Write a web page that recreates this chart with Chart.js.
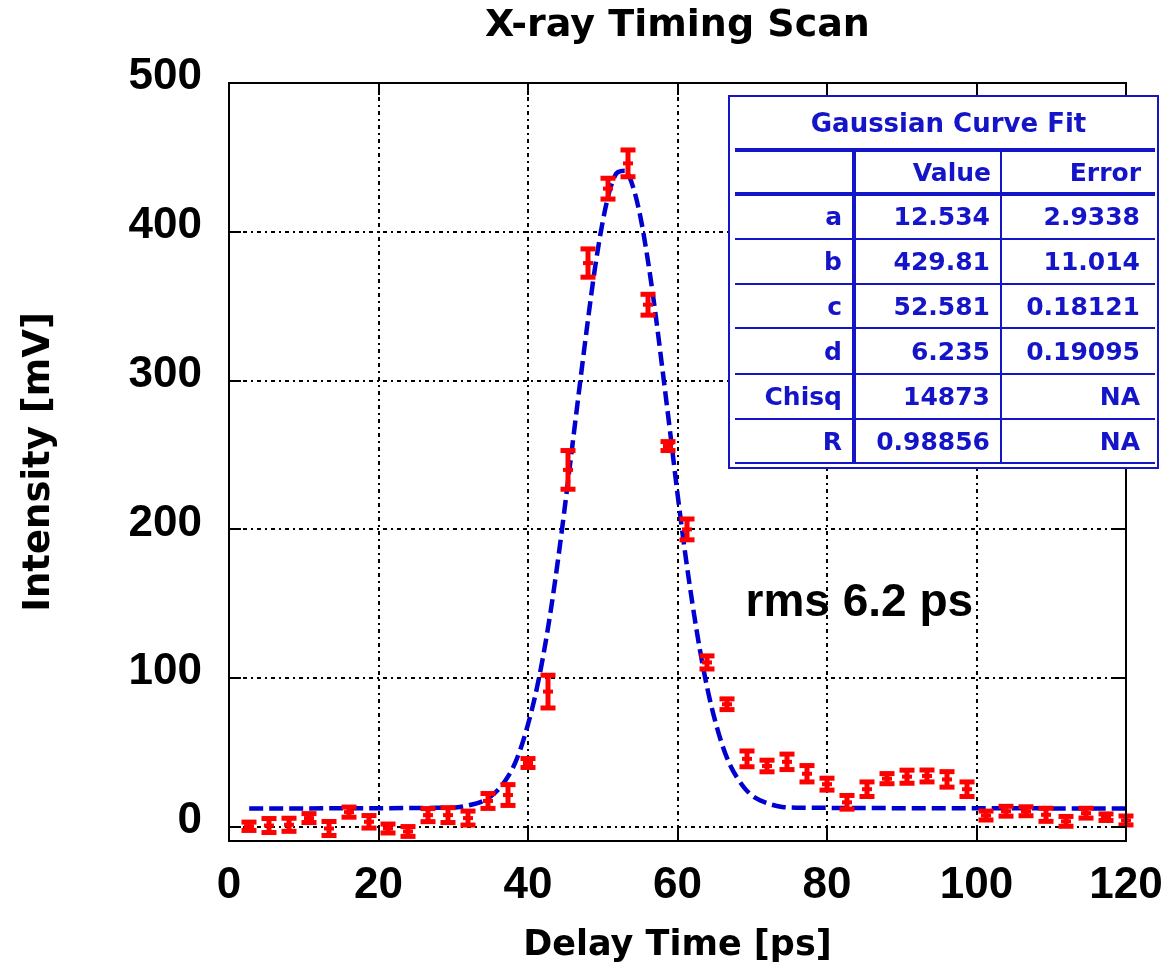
<!DOCTYPE html>
<html>
<head>
<meta charset="utf-8">
<title>X-ray Timing Scan</title>
<script src="https://cdn.jsdelivr.net/npm/chart.js@4.4.1/dist/chart.umd.min.js"></script>
<style>
  html, body { margin: 0; padding: 0; background: #fff; }
  #wrap { width: 1163px; height: 973px; }
</style>
</head>
<body>
<div id="wrap"><canvas id="myChart" width="1163" height="973"></canvas></div>
<script>
// measured points (delay in ps, intensity in mV, error bar half-height)
const delayTimes = [2.67, 5.33, 8.0, 10.67, 13.33, 16.0, 18.67, 21.33, 24.0, 26.67, 29.33, 32.0, 34.67, 37.33, 40.0,
  42.67, 45.33, 48.0, 50.67, 53.33, 56.0, 58.67, 61.33, 64.0, 66.67, 69.33, 72.0, 74.67, 77.33, 80.0,
  82.67, 85.33, 88.0, 90.67, 93.33, 96.0, 98.67, 101.33, 104.0, 106.67, 109.33, 112.0, 114.67, 117.33, 120.0];
const intensity = [0.5, 1, 1.5, 6, -1, 10, 3.5, -1, -3, 8, 8, 6, 17.5, 21.5, 43,
  91, 240, 379, 429, 446, 351, 256, 200, 110.6, 82.5, 45.8, 41, 43.8, 35.8, 28.8,
  16.6, 25.4, 32.5, 33.8, 34.3, 32, 25.4, 7.7, 10.6, 10.6, 8.2, 3.8, 9.3, 6.6, 4.4];
const errors = [2.8, 4.7, 4.4, 3, 4.7, 3.4, 4.2, 3, 3.3, 4.4, 5, 4.7, 5, 7, 3,
  11, 13, 9.5, 7, 9, 7, 3, 7, 4.4, 3.6, 5.3, 3.9, 5.2, 5.5, 4,
  4.6, 4.9, 3.4, 4.4, 4, 5.2, 4.9, 3, 3.3, 3, 4.4, 3.3, 3.3, 2.2, 3];

// gaussian fit curve
const curveX = [2.7, 30, 32, 34, 35, 36, 37, 38, 39, 40, 41, 42, 43, 44, 45, 46, 47, 48, 49, 50, 51, 52, 53,
  54, 55, 56, 57, 58, 59, 60, 61, 62, 63, 64, 65, 66, 67, 68, 69, 70, 72, 74, 76, 120];
const curveY = [12.5, 13, 14.5, 17.5, 20.5, 25, 31.5, 40, 52.5, 69, 89, 114, 144, 179, 218, 259, 300, 340, 377, 407, 429, 440, 441,
  431, 411, 382, 347, 307, 266, 224, 185, 150, 119, 93, 72, 55, 42, 33, 26, 21, 16, 13.5, 13, 12.5];

const xTicks = [0, 20, 40, 60, 80, 100, 120];
const yTicks = [0, 100, 200, 300, 400, 500];

// fit table
const fitHeader = ['', 'Value', 'Error'];
const fitParams = ['a', 'b', 'c', 'd', 'Chisq', 'R'];
const fitValues = ['12.534', '429.81', '52.581', '6.235', '14873', '0.98856'];
const fitErrors = ['2.9338', '11.014', '0.18121', '0.19095', 'NA', 'NA'];

const rmsText = 'rms 6.2 ps';
const rmsPos = { x: 69.1, y: 142 };

const tickFont = { family: "'Liberation Sans Narrow', 'Arial Narrow', 'Liberation Sans', sans-serif", size: 44, weight: 'bold' };
const labelFont = "'DejaVu Sans', sans-serif";
const tableBlue = '#1414c8';

// extra drawing: error bars, frame, inward ticks, table, rms label
const decorPlugin = {
  id: 'decor',
  afterDatasetsDraw(chart) {
    const ctx = chart.ctx;
    const xs = chart.scales.x, ys = chart.scales.y;
    ctx.save();
    ctx.fillStyle = '#ff0000';
    delayTimes.forEach((t, i) => {
      const px = Math.round(xs.getPixelForValue(t));
      const top = ys.getPixelForValue(intensity[i] + errors[i]);
      const bot = ys.getPixelForValue(intensity[i] - errors[i]);
      const mid = ys.getPixelForValue(intensity[i]);
      ctx.fillRect(px - 2.5, top, 5, bot - top);
      ctx.fillRect(px - 7.5, top - 2.5, 15, 5);
      ctx.fillRect(px - 7.5, bot - 2.5, 15, 5);
      ctx.fillRect(px - 5, mid - 2, 10, 4);
    });
    ctx.restore();
  },
  afterDraw(chart) {
    const ctx = chart.ctx;
    const a = chart.chartArea;
    const xs = chart.scales.x, ys = chart.scales.y;
    ctx.save();
    // frame
    ctx.strokeStyle = '#000';
    ctx.lineWidth = 2;
    ctx.strokeRect(a.left, a.top, a.right - a.left, a.bottom - a.top);
    // inward ticks
    const tl = 12;
    ctx.beginPath();
    xTicks.forEach(v => {
      const px = Math.round(xs.getPixelForValue(v));
      ctx.moveTo(px, a.bottom); ctx.lineTo(px, a.bottom - tl);
      ctx.moveTo(px, a.top); ctx.lineTo(px, a.top + tl);
    });
    yTicks.forEach(v => {
      const py = Math.round(ys.getPixelForValue(v));
      ctx.moveTo(a.left, py); ctx.lineTo(a.left + tl, py);
      ctx.moveTo(a.right, py); ctx.lineTo(a.right - tl, py);
    });
    ctx.stroke();

    // rms label
    ctx.fillStyle = '#000';
    ctx.font = "bold 46px 'Liberation Sans', Arial, sans-serif";
    ctx.textAlign = 'left';
    ctx.textBaseline = 'alphabetic';
    ctx.fillText(rmsText, xs.getPixelForValue(rmsPos.x), ys.getPixelForValue(rmsPos.y));

    // fit table, placed from the chart area corner
    const L = a.left + 500, T = a.top + 13, W = 429, H = 372;
    const colX = [L + 6, L + 125, L + 272, L + 426];
    const rowY = [T + 54, T + 98, T + 143, T + 188, T + 232, T + 278, T + 323, T + 367];
    ctx.fillStyle = '#fff';
    ctx.fillRect(L, T, W, H);
    ctx.strokeStyle = tableBlue;
    ctx.lineWidth = 2;
    ctx.strokeRect(L, T, W, H);
    rowY.forEach((y, i) => {
      ctx.lineWidth = i < 2 ? 4 : 2;
      ctx.beginPath(); ctx.moveTo(colX[0], y); ctx.lineTo(colX[3], y); ctx.stroke();
    });
    ctx.lineWidth = 4;
    ctx.beginPath(); ctx.moveTo(colX[1], rowY[0]); ctx.lineTo(colX[1], rowY[7]); ctx.stroke();
    ctx.lineWidth = 2;
    ctx.beginPath(); ctx.moveTo(colX[2], rowY[0]); ctx.lineTo(colX[2], rowY[7]); ctx.stroke();

    ctx.fillStyle = tableBlue;
    ctx.textBaseline = 'middle';
    ctx.textAlign = 'center';
    ctx.font = 'bold 26px ' + labelFont;
    ctx.fillText('Gaussian Curve Fit', L + W / 2 + 5, (T + rowY[0]) / 2 + 2);
    ctx.font = 'bold 25px ' + labelFont;
    ctx.textAlign = 'right';
    const hy = (rowY[0] + rowY[1]) / 2 + 2;
    ctx.fillText(fitHeader[1], colX[2] - 10, hy);
    ctx.fillText(fitHeader[2], colX[3] - 14, hy);
    fitParams.forEach((p, i) => {
      const cy = (rowY[i + 1] + rowY[i + 2]) / 2 + 2;
      ctx.fillText(p, colX[1] - 12, cy);
      ctx.fillText(fitValues[i], colX[2] - 11, cy);
      ctx.fillText(fitErrors[i], colX[3] - 15, cy);
    });
    ctx.restore();
  }
};

const ctx = document.getElementById('myChart').getContext('2d');
new Chart(ctx, {
  type: 'scatter',
  data: {
    datasets: [
      {
        label: 'Gaussian fit',
        data: curveX.map((x, i) => ({ x: x, y: curveY[i] })),
        showLine: true,
        borderColor: '#0000d0',
        borderWidth: 4.5,
        borderDash: [14, 6],
        cubicInterpolationMode: 'monotone',
        pointRadius: 0,
        fill: false
      },
      {
        label: 'Intensity',
        data: delayTimes.map((x, i) => ({ x: x, y: intensity[i] })),
        pointRadius: 0,
        showLine: false
      }
    ]
  },
  options: {
    responsive: false,
    animation: false,
    layout: { padding: { left: 0, right: 37, top: 0, bottom: 0 } },
    scales: {
      x: {
        type: 'linear',
        min: 0,
        max: 120,
        afterBuildTicks: axis => { axis.ticks = xTicks.map(v => ({ value: v })); },
        afterFit: axis => {
          axis.height = 132;
          axis.paddingLeft = 0;
          axis.paddingRight = 0;
        },
        grid: { color: '#000', lineWidth: 2, drawTicks: false },
        border: { display: false, dash: [4, 4, 2, 4] },
        ticks: { color: '#000', font: tickFont, padding: 18, maxRotation: 0 },
        title: {
          display: true, text: 'Delay Time [ps]', color: '#000',
          font: { family: labelFont, size: 35, weight: 'bold', lineHeight: 1.2 },
          padding: { top: 0, bottom: 6 }
        }
      },
      y: {
        type: 'linear',
        min: -9.4,
        max: 500,
        afterBuildTicks: axis => { axis.ticks = yTicks.map(v => ({ value: v })); },
        afterFit: axis => { axis.width = 229; },
        grid: { color: '#000', lineWidth: 2, drawTicks: false },
        border: { display: false, dash: [4, 4, 2, 4] },
        ticks: { color: '#000', font: tickFont, padding: 27, labelOffset: -6 },
        title: {
          display: true, text: 'Intensity [mV]', color: '#000',
          font: { family: labelFont, size: 37, weight: 'bold', lineHeight: 1.2 },
          padding: { top: 17, bottom: 0 }
        }
      }
    },
    plugins: {
      legend: { display: false },
      tooltip: { enabled: false },
      title: {
        display: true,
        text: 'X-ray Timing Scan',
        fullSize: false,
        color: '#000',
        font: { family: labelFont, size: 38, weight: 'bold', lineHeight: 1.2 },
        padding: { top: 3, bottom: 34.4 }
      }
    }
  },
  plugins: [decorPlugin]
});
</script>
</body>
</html>
